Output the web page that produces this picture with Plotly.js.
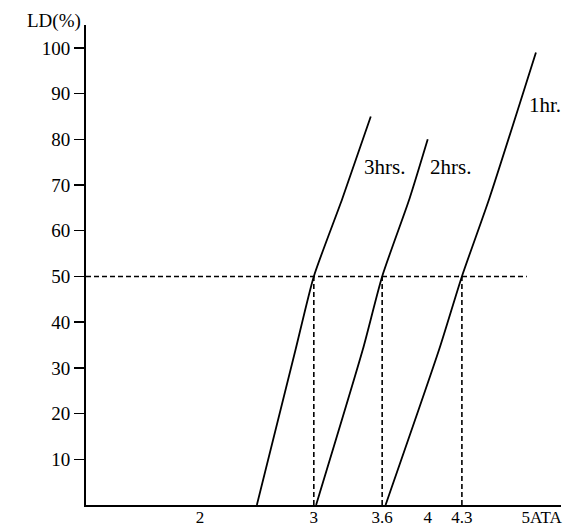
<!DOCTYPE html>
<html>
<head>
<meta charset="utf-8">
<script src="https://cdn.plot.ly/plotly-2.35.2.min.js"></script>
<style>html,body{margin:0;padding:0;background:#fff;}#chart{width:587px;height:530px;}</style>
</head>
<body>
<div id="chart"></div>
<script>
// Pressure (ATA) vs LD (%) curves
const x3hrs = [2.50, 2.84, 3.00, 3.25, 3.50];
const y3hrs = [0, 34, 50, 67, 85];
const x2hrs = [3.02, 3.43, 3.60, 3.84, 4.00];
const y2hrs = [0, 34, 50, 67, 80];
const x1hr = [3.63, 4.10, 4.30, 4.54, 4.95];
const y1hr = [0, 34, 50, 67, 99];

const seriesNames = ["3hrs.", "2hrs.", "1hr."];
const labelX = [3.62, 4.20, 5.03];
const labelY = [74, 74, 87.5];

// LD50 reference
const ld50Level = 50;
const ld50LineX = [1, 4.87];
const ld50Pressures = [3, 3.6, 4.3];

const xTickVals = [2, 3, 3.6, 4, 4.3, 5];
const xTickText = ["2", "3", "3.6", "4", "4.3", "5ATA"];
const yTickVals = [10, 20, 30, 40, 50, 60, 70, 80, 90, 100];

const FONT = "Liberation Serif, Times New Roman, serif";
const solid = {color: "#000", width: 1.8, shape: "spline", smoothing: 0.6};
const dashed = {color: "#000", width: 1.6, dash: "5px,3px"};

const traces = [
  {x: x3hrs, y: y3hrs, mode: "lines", line: solid, name: seriesNames[0]},
  {x: x2hrs, y: y2hrs, mode: "lines", line: solid, name: seriesNames[1]},
  {x: x1hr, y: y1hr, mode: "lines", line: solid, name: seriesNames[2]},
  {x: ld50LineX, y: [ld50Level, ld50Level], mode: "lines", line: dashed}
];
ld50Pressures.forEach(p => {
  traces.push({x: [p, p], y: [0, ld50Level], mode: "lines", line: dashed});
});

const annotations = seriesNames.map((t, i) => ({
  x: labelX[i], y: labelY[i], xref: "x", yref: "y", text: t, showarrow: false,
  font: {family: FONT, size: 21, color: "#000"}
}));
annotations.push({
  x: 0, y: 1, xref: "paper", yref: "paper", xanchor: "right", yanchor: "middle",
  xshift: -3, yshift: 4, text: "LD(%)", showarrow: false,
  font: {family: FONT, size: 19, color: "#000"}
});

const layout = {
  width: 587, height: 530,
  margin: {l: 86, r: 26, t: 25, b: 25},
  paper_bgcolor: "#fff", plot_bgcolor: "#fff",
  showlegend: false,
  font: {family: FONT, size: 18, color: "#000"},
  xaxis: {
    range: [1, 5.17], showgrid: false, zeroline: false,
    showline: true, linecolor: "#000", linewidth: 2,
    tickvals: xTickVals, ticktext: xTickText, ticks: "", ticklen: 0,
    ticklabelstandoff: -4,
    tickfont: {family: FONT, size: 17, color: "#000"}
  },
  yaxis: {
    range: [0, 105], showgrid: false, zeroline: false,
    showline: true, linecolor: "#000", linewidth: 2,
    tickvals: yTickVals, ticks: "outside", ticklen: 10, tickwidth: 1.5, tickcolor: "#000",
    tickfont: {family: FONT, size: 19, color: "#000"}
  },
  annotations: annotations
};

Plotly.newPlot("chart", traces, layout, {displayModeBar: false, staticPlot: true});
</script>
</body>
</html>
